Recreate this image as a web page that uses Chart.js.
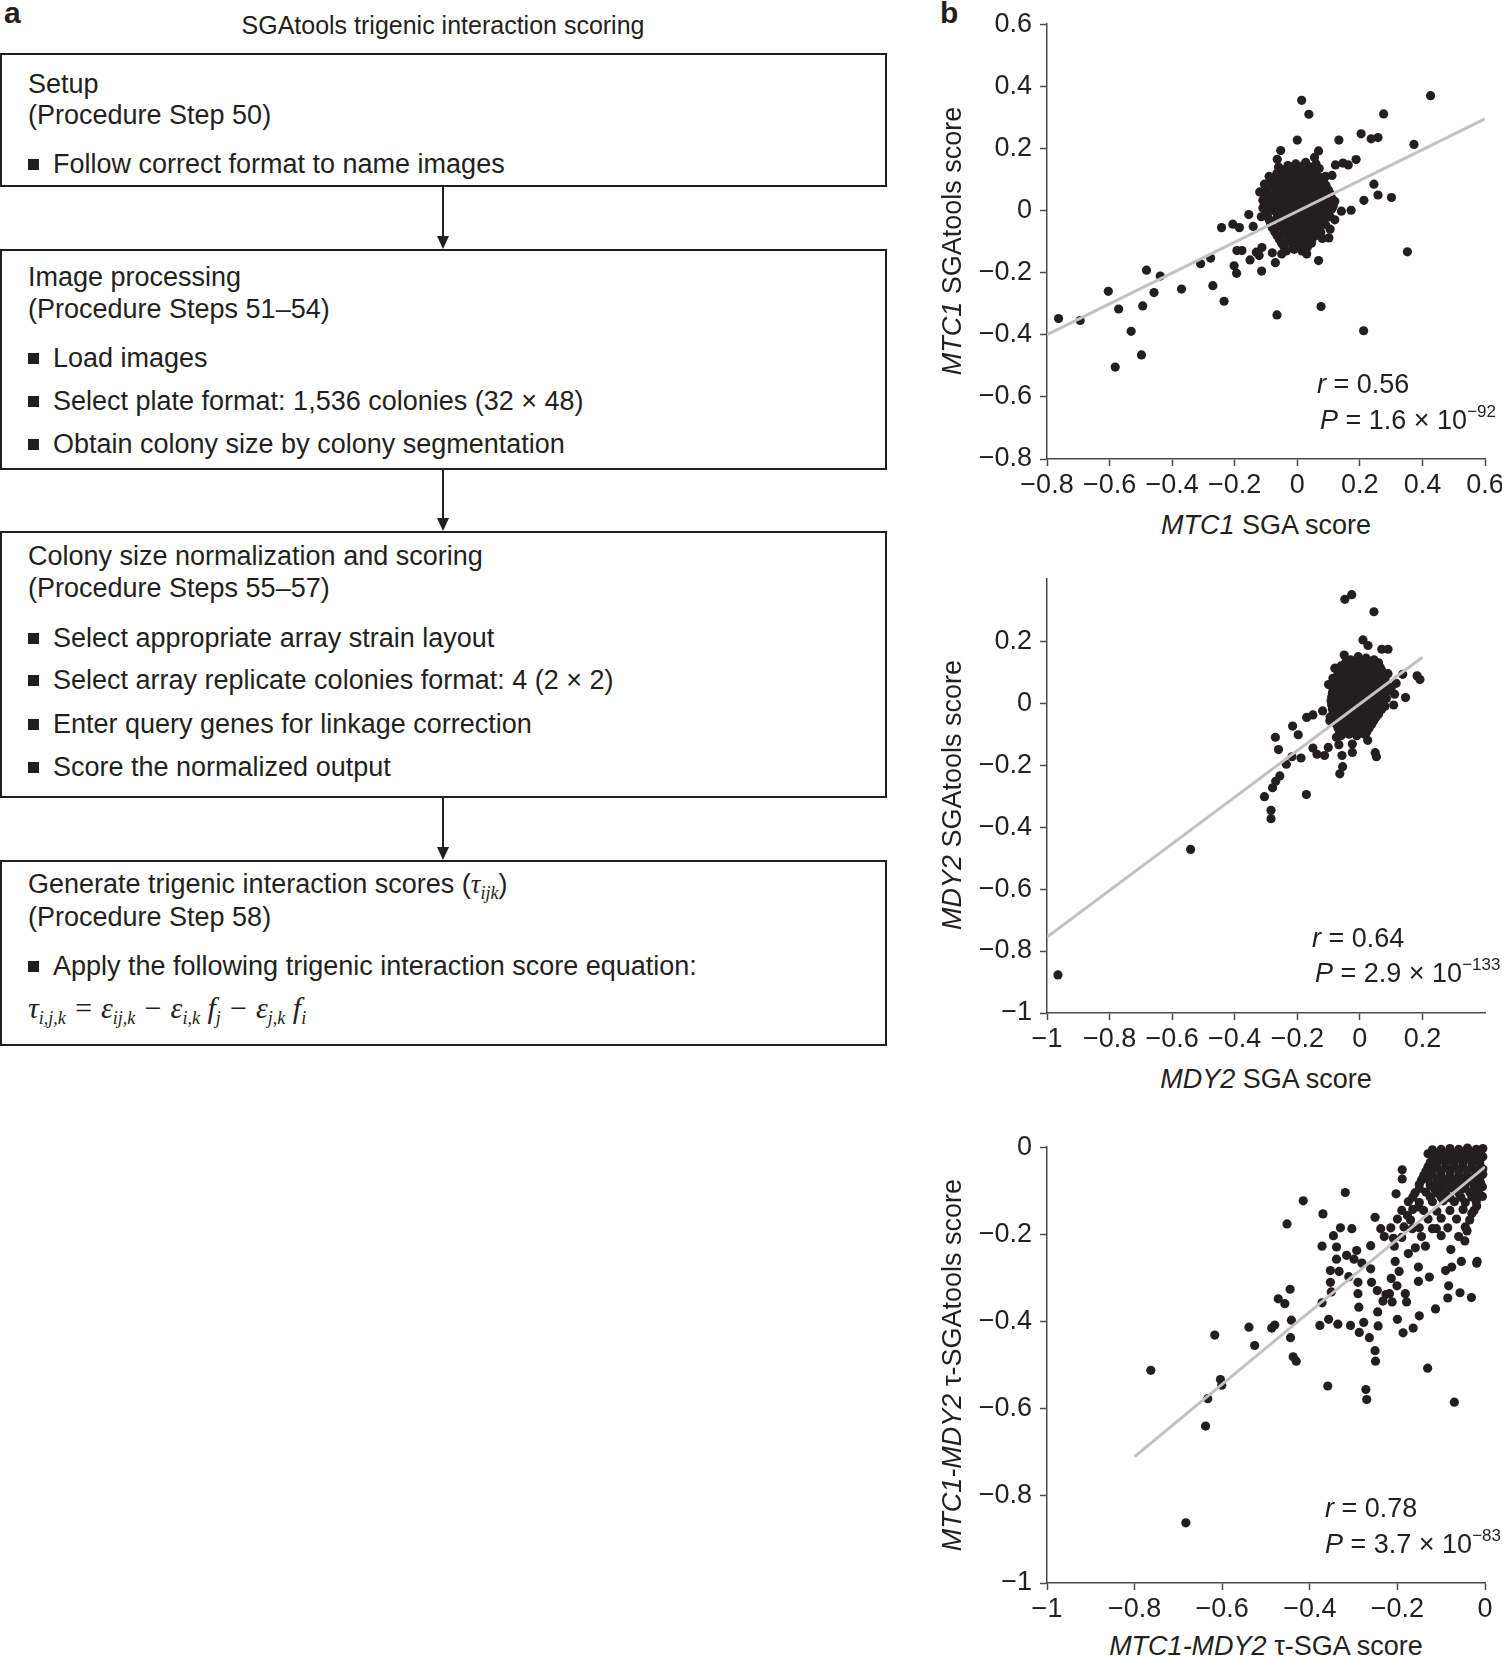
<!DOCTYPE html>
<html>
<head>
<meta charset="utf-8">
<script src="https://cdn.jsdelivr.net/npm/chart.js@4.4.1/dist/chart.umd.min.js"></script>
<style>
  html, body { margin: 0; padding: 0; background: #fff; overflow: hidden; }
  body { width: 1502px; height: 1659px; position: relative; font-family: "Liberation Sans", Arial, sans-serif; color: #231f20; }
  .abs { position: absolute; white-space: nowrap; }
  .panel { position: absolute; font-weight: bold; font-size: 30px; }
  .box { position: absolute; left: 0; width: 883px; border: 2px solid #231f20; }
  .line { position: absolute; left: 28px; font-size: 27px; line-height: 32px; white-space: nowrap; }
  .bul { position: absolute; left: 28px; font-size: 27px; line-height: 32px; white-space: nowrap; padding-left: 25px; }
  .bul::before { content: ""; position: absolute; left: 0; top: 11px; width: 11px; height: 11px; background: #231f20; }
  .arrow { position: absolute; left: 442px; width: 2px; background: #231f20; }
  .head { position: absolute; left: 437px; width: 0; height: 0; border-left: 6px solid transparent; border-right: 6px solid transparent; border-top: 13px solid #231f20; }
  .math { font-family: "Liberation Serif", "DejaVu Serif", serif; font-style: italic; }
  .eq { font-size: 30px; }
  sub.m { font-size: 18px; vertical-align: baseline; position: relative; top: 6px; }
  .ytitle { position: absolute; white-space: nowrap; font-size: 27px; transform: translate(-50%, -50%) rotate(-90deg); }
  .xtitle { position: absolute; white-space: nowrap; font-size: 27px; transform: translate(-50%, -50%); }
  .stat { position: absolute; white-space: nowrap; font-size: 27px; line-height: 32px; }
  .stat sup { font-size: 17px; vertical-align: baseline; position: relative; top: -12px; }
  canvas { position: absolute; }
</style>
</head>
<body>

<div class="panel" style="left:4px; top:-4px;">a</div>
<div class="abs" style="left:443px; top:25px; transform:translate(-50%,-50%); font-size:25px;">SGAtools trigenic interaction scoring</div>

<div class="box" style="top:53px; height:130px;"></div>
<div class="line" style="top:68px;">Setup</div>
<div class="line" style="top:99px;">(Procedure Step 50)</div>
<div class="bul" style="top:148px;">Follow correct format to name images</div>

<div class="arrow" style="top:187px; height:50px;"></div>
<div class="head" style="top:236px;"></div>

<div class="box" style="top:249px; height:217px;"></div>
<div class="line" style="top:261px;">Image processing</div>
<div class="line" style="top:293px;">(Procedure Steps 51–54)</div>
<div class="bul" style="top:342px;">Load images</div>
<div class="bul" style="top:385px;">Select plate format: 1,536 colonies (32 × 48)</div>
<div class="bul" style="top:428px;">Obtain colony size by colony segmentation</div>

<div class="arrow" style="top:470px; height:48px;"></div>
<div class="head" style="top:518px;"></div>

<div class="box" style="top:531px; height:263px;"></div>
<div class="line" style="top:540px;">Colony size normalization and scoring</div>
<div class="line" style="top:572px;">(Procedure Steps 55–57)</div>
<div class="bul" style="top:622px;">Select appropriate array strain layout</div>
<div class="bul" style="top:664px;">Select array replicate colonies format: 4 (2 × 2)</div>
<div class="bul" style="top:708px;">Enter query genes for linkage correction</div>
<div class="bul" style="top:751px;">Score the normalized output</div>

<div class="arrow" style="top:798px; height:50px;"></div>
<div class="head" style="top:847px;"></div>

<div class="box" style="top:860px; height:182px;"></div>
<div class="line" style="top:868px;">Generate trigenic interaction scores (<span class="math">τ<sub class="m">ijk</sub></span>)</div>
<div class="line" style="top:901px;">(Procedure Step 58)</div>
<div class="bul" style="top:950px;">Apply the following trigenic interaction score equation:</div>
<div class="line math eq" style="top:992px;">τ<sub class="m">i,j,k</sub> = ε<sub class="m">ij,k</sub> − ε<sub class="m">i,k</sub> f<sub class="m">j</sub> − ε<sub class="m">j,k</sub> f<sub class="m">i</sub></div>

<div class="panel" style="left:940px; top:-4px;">b</div>

<canvas id="c1" width="552" height="504" style="left:955px; top:0px;"></canvas>
<canvas id="c2" width="552" height="503" style="left:955px; top:555px;"></canvas>
<canvas id="c3" width="552" height="505" style="left:955px; top:1123px;"></canvas>

<div class="ytitle" style="left:952px; top:241px;"><i>MTC1</i> SGAtools score</div>
<div class="xtitle" style="left:1266px; top:525px;"><i>MTC1</i> SGA score</div>
<div class="stat" style="left:1317px; top:368px;"><i>r</i> = 0.56</div>
<div class="stat" style="left:1320px; top:404px;"><i>P</i> = 1.6 × 10<sup>−92</sup></div>

<div class="ytitle" style="left:952px; top:795px;"><i>MDY2</i> SGAtools score</div>
<div class="xtitle" style="left:1266px; top:1079px;"><i>MDY2</i> SGA score</div>
<div class="stat" style="left:1312px; top:922px;"><i>r</i> = 0.64</div>
<div class="stat" style="left:1315px; top:957px;"><i>P</i> = 2.9 × 10<sup>−133</sup></div>

<div class="ytitle" style="left:952px; top:1365px;"><i>MTC1-MDY2</i> τ-SGAtools score</div>
<div class="xtitle" style="left:1266px; top:1646px;"><i>MTC1-MDY2</i> τ-SGA score</div>
<div class="stat" style="left:1325px; top:1492px;"><i>r</i> = 0.78</div>
<div class="stat" style="left:1325px; top:1528px;"><i>P</i> = 3.7 × 10<sup>−83</sup></div>

<script>
// MTC1: SGA score (x) vs SGAtools score (y)
const mtc1Points = [
  [-0.763,-0.348],[-0.694,-0.354],[-0.604,-0.26],[-0.571,-0.317],[-0.582,-0.504],[-0.531,-0.389],
  [-0.498,-0.465],[-0.494,-0.307],[-0.482,-0.192],[-0.458,-0.264],[-0.438,-0.211],[-0.37,-0.253],
  [-0.309,-0.171],[-0.277,-0.153],[-0.27,-0.242],[-0.242,-0.055],[-0.234,-0.292],[-0.206,-0.044],
  [-0.202,-0.178],[-0.194,-0.202],[-0.193,-0.129],[-0.185,-0.055],[-0.177,-0.129],[-0.155,-0.013],
  [-0.151,-0.159],[-0.141,-0.051],[-0.131,-0.134],[-0.122,-0.145],[-0.114,-0.195],[-0.113,-0.119],
  [-0.105,0.085],[-0.08,-0.136],[-0.07,-0.168],[-0.065,-0.336],[-0.064,0.165],[-0.053,0.193],
  [0.0,0.227],[0.014,0.355],[0.037,0.31],[0.027,0.155],[0.055,0.171],[0.068,0.192],[0.07,0.135],
  [0.068,-0.161],[0.076,-0.309],[0.101,-0.088],[0.111,0.113],[0.122,0.147],[0.133,0.227],
  [0.141,-0.002],[0.146,0.153],[0.163,0.147],[0.172,0.001],[0.188,0.164],[0.204,0.247],
  [0.213,0.033],[0.212,-0.387],[0.236,0.231],[0.245,0.085],[0.258,0.235],[0.258,0.05],
  [0.276,0.311],[0.301,0.042],[0.352,-0.133],[0.373,0.213],[0.426,0.37],
  [-0.03,0.145],[-0.005,0.15],[0.02,0.145],[0.045,0.14],
  [-0.065,0.12],[-0.04,0.125],[-0.015,0.12],[0.01,0.125],[0.035,0.12],[0.06,0.115],
  [-0.085,0.095],[-0.06,0.1],[-0.035,0.095],[-0.01,0.1],[0.015,0.095],[0.04,0.1],[0.065,0.095],[0.085,0.09],
  [-0.095,0.07],[-0.07,0.075],[-0.045,0.07],[-0.02,0.075],[0.005,0.07],[0.03,0.075],[0.055,0.07],[0.08,0.07],[0.1,0.065],
  [-0.105,0.045],[-0.08,0.05],[-0.055,0.045],[-0.03,0.05],[-0.005,0.045],[0.02,0.05],[0.045,0.045],[0.07,0.05],[0.095,0.045],[0.11,0.04],
  [-0.105,0.02],[-0.08,0.025],[-0.055,0.02],[-0.03,0.025],[-0.005,0.02],[0.02,0.025],[0.045,0.02],[0.07,0.025],[0.095,0.02],[0.115,0.015],
  [-0.1,-0.005],[-0.075,0.0],[-0.05,-0.005],[-0.025,0.0],[0.0,-0.005],[0.025,0.0],[0.05,-0.005],[0.075,0.0],[0.1,-0.005],
  [-0.09,-0.03],[-0.065,-0.025],[-0.04,-0.03],[-0.015,-0.025],[0.01,-0.03],[0.035,-0.025],[0.06,-0.03],[0.085,-0.025],
  [-0.08,-0.055],[-0.055,-0.05],[-0.03,-0.055],[-0.005,-0.05],[0.02,-0.055],[0.045,-0.05],[0.07,-0.055],
  [-0.065,-0.08],[-0.04,-0.075],[-0.015,-0.08],[0.01,-0.075],[0.035,-0.08],[0.06,-0.08],
  [-0.05,-0.105],[-0.025,-0.1],[0.0,-0.105],[0.025,-0.1],[0.045,-0.105],
  [-0.035,-0.13],[-0.01,-0.125],[0.015,-0.13],
  [-0.052,0.132],[-0.027,0.133],[-0.002,0.132],[0.022,0.133],[0.047,0.131],
  [-0.072,0.108],[-0.047,0.107],[-0.022,0.108],[0.003,0.107],[0.028,0.108],[0.052,0.107],[0.075,0.106],
  [-0.09,0.083],[-0.057,0.082],[-0.032,0.083],[-0.007,0.082],[0.018,0.083],[0.043,0.082],[0.068,0.083],[0.092,0.08],
  [-0.1,0.058],[-0.067,0.057],[-0.042,0.058],[-0.017,0.057],[0.008,0.058],[0.033,0.057],[0.058,0.058],[0.083,0.057],[0.105,0.055],
  [-0.11,0.033],[-0.092,0.032],[-0.067,0.033],[-0.042,0.032],[-0.017,0.033],[0.008,0.032],[0.033,0.033],[0.058,0.032],[0.083,0.033],[0.107,0.03],
  [-0.11,0.008],[-0.088,0.007],[-0.063,0.008],[-0.038,0.007],[-0.013,0.008],[0.012,0.007],[0.037,0.008],[0.062,0.007],[0.087,0.008],[0.11,0.005],
  [-0.095,-0.018],[-0.063,-0.017],[-0.038,-0.018],[-0.013,-0.017],[0.012,-0.018],[0.037,-0.017],[0.062,-0.018],[0.087,-0.017],[0.105,-0.02],
  [-0.085,-0.043],[-0.053,-0.042],[-0.028,-0.043],[-0.003,-0.042],[0.022,-0.043],[0.047,-0.042],[0.072,-0.043],[0.09,-0.045],
  [-0.072,-0.068],[-0.043,-0.067],[-0.018,-0.068],[0.007,-0.067],[0.032,-0.068],[0.057,-0.067],[0.075,-0.07],
  [-0.057,-0.093],[-0.028,-0.092],[-0.003,-0.093],[0.022,-0.092],[0.047,-0.093],
  [-0.042,-0.118],[-0.013,-0.117],[0.012,-0.118],[0.032,-0.118],
  [-0.12,0.06],[0.12,0.03],[-0.09,0.11],[0.09,0.11],[-0.05,-0.14],[0.03,-0.14],[0.105,-0.06],
  [-0.115,-0.02],[0.06,0.15],[-0.06,0.14],[0.12,-0.03],[0.08,-0.09]
];
const mtc1Fit = [[-0.8,-0.4],[0.6,0.295]];

// MDY2: SGA score (x) vs SGAtools score (y)
const mdy2Points = [
  [-0.965,-0.877],[-0.541,-0.472],[-0.305,-0.302],[-0.284,-0.346],[-0.284,-0.373],[-0.279,-0.273],
  [-0.27,-0.11],[-0.269,-0.252],[-0.26,-0.15],[-0.256,-0.235],[-0.235,-0.197],[-0.215,-0.074],
  [-0.217,-0.173],[-0.197,-0.102],[-0.188,-0.177],[-0.171,-0.295],[-0.17,-0.046],[-0.15,-0.038],
  [-0.15,-0.145],[-0.137,-0.165],[-0.119,-0.025],[-0.113,-0.169],[-0.101,-0.143],[-0.096,-0.057],
  [-0.083,0.018],[-0.08,0.113],[-0.086,0.08],[-0.067,-0.134],[-0.064,-0.228],[-0.055,-0.205],
  [-0.057,-0.169],[-0.048,0.335],[-0.026,0.35],[-0.024,-0.159],[-0.024,-0.132],[0.01,0.204],
  [0.045,0.295],[0.049,-0.16],[0.053,-0.173],[0.07,0.174],[0.09,0.174],[0.111,0.029],[0.108,-0.006],
  [0.116,0.064],[0.137,0.093],[0.146,0.018],[0.183,0.088],[0.192,0.076],[0.026,0.186],
  [-0.03,0.14],[-0.005,0.15],[0.02,0.145],[0.045,0.14],
  [-0.06,0.12],[-0.035,0.125],[-0.01,0.12],[0.015,0.125],[0.04,0.12],[0.065,0.115],
  [-0.07,0.095],[-0.045,0.1],[-0.02,0.095],[0.005,0.1],[0.03,0.095],[0.055,0.1],[0.075,0.09],
  [-0.08,0.07],[-0.055,0.075],[-0.03,0.07],[-0.005,0.075],[0.02,0.07],[0.045,0.075],[0.07,0.07],[0.085,0.065],
  [-0.085,0.045],[-0.06,0.05],[-0.035,0.045],[-0.01,0.05],[0.015,0.045],[0.04,0.05],[0.065,0.045],[0.09,0.04],
  [-0.09,0.02],[-0.065,0.025],[-0.04,0.02],[-0.015,0.025],[0.01,0.02],[0.035,0.025],[0.06,0.02],[0.085,0.015],
  [-0.09,-0.005],[-0.065,0.0],[-0.04,-0.005],[-0.015,0.0],[0.01,-0.005],[0.035,0.0],[0.06,-0.005],[0.08,-0.01],
  [-0.085,-0.03],[-0.06,-0.025],[-0.035,-0.03],[-0.01,-0.025],[0.015,-0.03],[0.04,-0.025],[0.06,-0.035],
  [-0.08,-0.055],[-0.055,-0.05],[-0.03,-0.055],[-0.005,-0.05],[0.02,-0.055],[0.045,-0.055],
  [-0.07,-0.08],[-0.045,-0.075],[-0.02,-0.08],[0.005,-0.075],[0.03,-0.08],
  [-0.06,-0.105],[-0.035,-0.1],[-0.01,-0.105],[0.015,-0.1],
  [-0.045,0.132],[-0.018,0.133],[0.007,0.132],[0.032,0.133],[0.055,0.13],
  [-0.065,0.107],[-0.047,0.108],[-0.022,0.107],[0.003,0.108],[0.028,0.107],[0.052,0.108],[0.07,0.105],
  [-0.075,0.083],[-0.057,0.082],[-0.032,0.083],[-0.007,0.082],[0.018,0.083],[0.043,0.082],[0.063,0.083],[0.08,0.08],
  [-0.083,0.058],[-0.067,0.057],[-0.042,0.058],[-0.017,0.057],[0.008,0.058],[0.033,0.057],[0.058,0.058],[0.078,0.057],[0.09,0.055],
  [-0.088,0.033],[-0.072,0.032],[-0.047,0.033],[-0.022,0.032],[0.003,0.033],[0.028,0.032],[0.053,0.033],[0.078,0.032],
  [-0.092,0.008],[-0.077,0.007],[-0.052,0.008],[-0.027,0.007],[-0.002,0.008],[0.023,0.007],[0.048,0.008],[0.072,0.007],
  [-0.088,-0.018],[-0.072,-0.017],[-0.047,-0.018],[-0.022,-0.017],[0.003,-0.018],[0.028,-0.017],[0.05,-0.018],[0.07,-0.02],
  [-0.082,-0.043],[-0.067,-0.042],[-0.042,-0.043],[-0.017,-0.042],[0.008,-0.043],[0.033,-0.042],[0.052,-0.045],
  [-0.075,-0.068],[-0.057,-0.067],[-0.032,-0.068],[-0.007,-0.067],[0.018,-0.068],[0.038,-0.068],
  [-0.065,-0.093],[-0.047,-0.092],[-0.022,-0.093],[0.003,-0.092],[0.022,-0.093],
  [-0.1,0.06],[-0.095,-0.045],[0.09,0.095],[-0.05,0.155],[0.06,0.13],[-0.075,-0.11],[0.025,-0.12],[0.1,0.05]
];
const mdy2Fit = [[-1,-0.755],[0.2,0.148]];

// MTC1-MDY2: tau-SGA score (x) vs tau-SGAtools score (y)
const tauPoints = [
  [-0.763,-0.512],[-0.683,-0.862],[-0.638,-0.64],[-0.633,-0.577],[-0.617,-0.431],[-0.604,-0.533],
  [-0.601,-0.546],[-0.539,-0.413],[-0.526,-0.455],[-0.487,-0.415],[-0.48,-0.408],[-0.472,-0.348],
  [-0.457,-0.359],[-0.452,-0.176],[-0.445,-0.326],[-0.444,-0.437],[-0.442,-0.397],[-0.438,-0.481],
  [-0.431,-0.491],[-0.415,-0.123],[-0.377,-0.409],[-0.372,-0.357],[-0.37,-0.153],[-0.372,-0.227],
  [-0.359,-0.548],[-0.357,-0.395],[-0.353,-0.283],[-0.353,-0.31],[-0.351,-0.332],[-0.346,-0.203],
  [-0.339,-0.257],[-0.339,-0.229],[-0.336,-0.406],[-0.333,-0.285],[-0.33,-0.185],[-0.319,-0.104],
  [-0.316,-0.248],[-0.311,-0.297],[-0.307,-0.409],[-0.304,-0.187],[-0.299,-0.257],[-0.293,-0.237],
  [-0.29,-0.31],[-0.29,-0.336],[-0.288,-0.367],[-0.287,-0.425],[-0.281,-0.266],[-0.277,-0.402],
  [-0.272,-0.556],[-0.27,-0.579],[-0.264,-0.437],[-0.261,-0.279],[-0.261,-0.226],[-0.259,-0.31],
  [-0.251,-0.161],[-0.251,-0.467],[-0.25,-0.491],[-0.246,-0.329],[-0.245,-0.378],[-0.244,-0.41],
  [-0.238,-0.187],[-0.233,-0.353],[-0.226,-0.338],[-0.218,-0.336],[-0.212,-0.355],[-0.209,-0.209],
  [-0.214,-0.301],[-0.207,-0.227],[-0.205,-0.262],[-0.203,-0.107],[-0.201,-0.318],[-0.2,-0.395],
  [-0.196,-0.285],[-0.189,-0.052],[-0.189,-0.073],[-0.187,-0.426],[-0.182,-0.336],[-0.179,-0.355],
  [-0.177,-0.157],[-0.175,-0.244],[-0.166,-0.187],[-0.164,-0.415],[-0.159,-0.231],[-0.152,-0.137],
  [-0.152,-0.275],[-0.152,-0.308],[-0.15,-0.387],[-0.136,-0.227],[-0.131,-0.507],[-0.127,-0.298],
  [-0.113,-0.371],[-0.111,-0.187],[-0.09,-0.283],[-0.085,-0.346],[-0.083,-0.318],[-0.078,-0.235],
  [-0.076,-0.275],[-0.07,-0.585],[-0.057,-0.334],[-0.054,-0.262],[-0.046,-0.215],[-0.041,-0.192],
  [-0.031,-0.345],[-0.019,-0.266],[-0.018,-0.262],[-0.03,-0.152],[-0.019,-0.135],[-0.006,-0.113],
  [-0.006,-0.091],
  [-0.12,-0.006],[-0.1,-0.005],[-0.08,-0.003],[-0.06,-0.005],[-0.04,-0.002],[-0.02,-0.005],[-0.005,-0.003],
  [-0.12,-0.025],[-0.1,-0.025],[-0.08,-0.027],[-0.06,-0.025],[-0.04,-0.023],[-0.02,-0.025],[-0.005,-0.022],
  [-0.13,-0.045],[-0.11,-0.047],[-0.09,-0.045],[-0.07,-0.043],[-0.05,-0.045],[-0.03,-0.047],[-0.01,-0.045],
  [-0.14,-0.065],[-0.12,-0.063],[-0.1,-0.065],[-0.08,-0.067],[-0.06,-0.065],[-0.04,-0.063],[-0.02,-0.065],[-0.005,-0.062],
  [-0.15,-0.085],[-0.125,-0.087],[-0.105,-0.085],[-0.085,-0.083],[-0.065,-0.085],[-0.045,-0.087],[-0.025,-0.085],[-0.01,-0.082],
  [-0.16,-0.105],[-0.135,-0.103],[-0.11,-0.105],[-0.09,-0.107],[-0.06,-0.105],[-0.035,-0.103],[-0.015,-0.105],
  [-0.175,-0.125],[-0.15,-0.127],[-0.12,-0.125],[-0.095,-0.123],[-0.07,-0.125],[-0.045,-0.127],[-0.02,-0.125],
  [-0.19,-0.145],[-0.165,-0.143],[-0.14,-0.145],[-0.11,-0.147],[-0.08,-0.145],[-0.05,-0.143],[-0.025,-0.145],
  [-0.2,-0.165],[-0.17,-0.167],[-0.13,-0.165],[-0.1,-0.163],[-0.065,-0.165],[-0.035,-0.167],
  [-0.215,-0.185],[-0.185,-0.183],[-0.15,-0.185],[-0.12,-0.187],[-0.085,-0.185],[-0.045,-0.183],
  [-0.23,-0.205],[-0.19,-0.207],[-0.145,-0.205],[-0.1,-0.203],[-0.06,-0.205],
  [-0.13,-0.015],[-0.11,-0.015],[-0.09,-0.014],[-0.07,-0.015],[-0.05,-0.016],[-0.03,-0.015],[-0.01,-0.014],
  [-0.125,-0.035],[-0.11,-0.036],[-0.09,-0.035],[-0.07,-0.034],[-0.05,-0.035],[-0.03,-0.036],[-0.012,-0.035],
  [-0.135,-0.055],[-0.12,-0.054],[-0.1,-0.055],[-0.08,-0.056],[-0.06,-0.055],[-0.04,-0.054],[-0.02,-0.055],[-0.005,-0.05],
  [-0.145,-0.075],[-0.13,-0.074],[-0.11,-0.075],[-0.09,-0.076],[-0.07,-0.075],[-0.05,-0.074],[-0.03,-0.075],[-0.012,-0.072],
  [-0.15,-0.095],[-0.115,-0.096],[-0.095,-0.095],[-0.075,-0.094],[-0.05,-0.095],[-0.025,-0.096],
  [-0.165,-0.115],[-0.125,-0.114],[-0.1,-0.115],[-0.08,-0.116],[-0.055,-0.115],[-0.03,-0.114]
];
const tauFit = [[-0.8,-0.71],[0,-0.045]];

const INK = '#231f20';
const FIT = '#c2c2c2';

function fmtTick(v, hideAbove) {
  const r = Math.round(v * 10) / 10;
  if (hideAbove !== undefined && r > hideAbove) return '';
  if (r === 0) return '0';
  const s = Math.abs(r).toString();
  return r < 0 ? '\u2212' + s : s;
}

function axis(min, max, hideAbove, isY) {
  return {
    type: 'linear',
    min: min,
    max: max,
    border: { display: true, color: '#4a4a4a', width: 1.5 },
    grid: {
      display: true,
      drawOnChartArea: false,
      drawTicks: true,
      tickLength: 7,
      tickWidth: 1.5,
      tickColor: (ctx) => (hideAbove !== undefined && ctx.tick && ctx.tick.value > hideAbove + 1e-6) ? 'rgba(0,0,0,0)' : '#4a4a4a'
    },
    ticks: {
      stepSize: 0.2,
      color: INK,
      padding: isY ? 8 : 3,
      font: { family: 'Liberation Sans', size: 27 },
      maxRotation: 0,
      autoSkip: false,
      callback: (v) => fmtTick(v, hideAbove)
    },
    afterFit: (scale) => {
      if (isY) scale.width = 92; else scale.height = 45;
    }
  };
}

function makeScatter(canvasId, points, fit, xr, yr, hideAbove) {
  const ctx = document.getElementById(canvasId).getContext('2d');
  return new Chart(ctx, {
    type: 'scatter',
    data: {
      datasets: [
        {
          label: 'genes',
          data: points.map(p => ({ x: p[0], y: p[1] })),
          backgroundColor: INK,
          borderColor: INK,
          pointRadius: 4.6,
          borderWidth: 0,
          clip: false,
          order: 2
        },
        {
          label: 'fit',
          type: 'line',
          data: fit.map(p => ({ x: p[0], y: p[1] })),
          borderColor: FIT,
          borderWidth: 3,
          pointRadius: 0,
          fill: false,
          order: 1
        }
      ]
    },
    options: {
      responsive: false,
      animation: false,
      devicePixelRatio: 1,
      layout: { padding: { top: 23, right: 22, left: 0, bottom: 0 } },
      plugins: { legend: { display: false }, tooltip: { enabled: false } },
      scales: {
        x: axis(xr[0], xr[1], hideAbove, false),
        y: axis(yr[0], yr[1], hideAbove, true)
      }
    }
  });
}

makeScatter('c1', mtc1Points, mtc1Fit, [-0.8, 0.6], [-0.8, 0.6]);
makeScatter('c2', mdy2Points, mdy2Fit, [-1, 0.4], [-1, 0.4], 0.3);
makeScatter('c3', tauPoints, tauFit, [-1, 0], [-1, 0]);
</script>
</body>
</html>
